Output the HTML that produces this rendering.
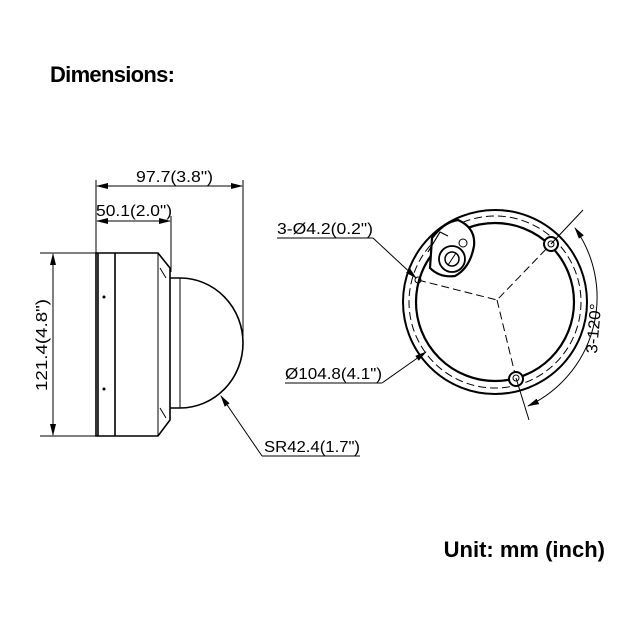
<!DOCTYPE html>
<html><head><style>
html,body{margin:0;padding:0;background:#fff;}
svg{display:block;}
</style></head><body>
<svg width="640" height="640" viewBox="0 0 640 640" xmlns="http://www.w3.org/2000/svg">
<defs>
<marker id="a" markerWidth="12" markerHeight="6" refX="11" refY="3" orient="auto-start-reverse" markerUnits="userSpaceOnUse">
<path d="M0,0 L12,3 L0,6 z" fill="#000"/>
</marker>
</defs>
<text x="50" y="82" font-family="Liberation Sans, sans-serif" font-weight="bold" font-size="22" textLength="125">Dimensions:</text>
<text x="605" y="557" text-anchor="end" font-family="Liberation Sans, sans-serif" font-weight="bold" font-size="22">Unit: mm (inch)</text>

<g stroke="#000" fill="none" stroke-width="1">
<!-- left view -->
<line x1="96" y1="180" x2="96" y2="253"/>
<line x1="243" y1="180" x2="243" y2="344"/>
<line x1="171" y1="216" x2="171" y2="272"/>
<line x1="97" y1="186" x2="242" y2="186" marker-start="url(#a)" marker-end="url(#a)"/>
<line x1="97" y1="221" x2="170" y2="221" marker-start="url(#a)" marker-end="url(#a)"/>
<line x1="40" y1="253" x2="96" y2="253"/>
<line x1="40" y1="436" x2="96" y2="436"/>
<line x1="53" y1="254" x2="53" y2="435" marker-start="url(#a)" marker-end="url(#a)"/>
<g stroke-width="1.6">
<path d="M96,253 L158,253 L170,268 L170,420 L158,436 L96,436 Z"/>
<line x1="98" y1="253" x2="98" y2="436"/>
<line x1="115" y1="253" x2="115" y2="436"/>
<path d="M170,278 L180,278 A63,65 0 0 1 180,408 L170,408"/>
<line x1="180" y1="278" x2="180" y2="408" stroke-width="1"/>
<line x1="158" y1="253" x2="158" y2="436" stroke-width="1"/>
</g>
<circle cx="104" cy="297" r="1" fill="#000"/>
<circle cx="104" cy="389" r="1" fill="#000"/>
<path d="M160,268 l6,10 M160,408 l6,10"/>
<line x1="262" y1="456" x2="221" y2="396" marker-end="url(#a)"/>
<line x1="262" y1="456" x2="360" y2="456"/>

<!-- right view -->
<circle cx="495" cy="302" r="92" stroke-width="2"/>
<circle cx="495" cy="302" r="86" stroke-dasharray="8,4"/>
<circle cx="495" cy="302" r="79" stroke-width="2.2"/>
<path d="M418,280 L497,300 L551,244 M497,300 L516,378" stroke-dasharray="8,4"/>
<circle cx="551" cy="244" r="7" fill="#fff" stroke-width="2"/>
<circle cx="516" cy="379" r="7" fill="#fff" stroke-width="2"/>
<path d="M432,238 Q444,222 458,220 Q476,228 474,246 Q470,268 455,276 Q440,278 430,268 Z" stroke-width="2.2" fill="#fff"/>
<path d="M428,252 L440,232 L448,236" stroke-width="1.2"/>
<circle cx="452" cy="259" r="13" stroke-width="1.8" fill="#fff"/>
<circle cx="452" cy="259" r="7" stroke-width="1.5"/>
<line x1="448" y1="265" x2="456" y2="253"/>
<circle cx="463" cy="243" r="4"/>
<circle cx="418" cy="280" r="3"/>
<circle cx="551" cy="244" r="3"/>
<circle cx="516" cy="378" r="3"/>
<line x1="551" y1="244" x2="583" y2="210"/>
<line x1="516" y1="378" x2="529" y2="420"/>
<path d="M575,228 A120,120 0 0 1 528,406" marker-start="url(#a)" marker-end="url(#a)"/>
<line x1="277" y1="238" x2="373" y2="238"/>
<line x1="373" y1="238" x2="416" y2="278" marker-end="url(#a)"/>
<line x1="285" y1="383" x2="382" y2="383"/>
<line x1="382" y1="383" x2="426" y2="352" marker-end="url(#a)"/>
</g>

<g font-family="Liberation Sans, DejaVu Sans, sans-serif" font-size="16" fill="#000">
<text x="136" y="182" textLength="77" lengthAdjust="spacingAndGlyphs">97.7(3.8")</text>
<text x="96" y="216" textLength="76" lengthAdjust="spacingAndGlyphs">50.1(2.0")</text>
<text transform="translate(47,345) rotate(-90)" x="-46" textLength="92" lengthAdjust="spacingAndGlyphs">121.4(4.8")</text>
<text x="264" y="452" textLength="96" lengthAdjust="spacingAndGlyphs">SR42.4(1.7")</text>
<text x="277" y="234" textLength="96" lengthAdjust="spacingAndGlyphs">3-Ø4.2(0.2")</text>
<text x="285" y="379" textLength="97" lengthAdjust="spacingAndGlyphs">Ø104.8(4.1")</text>
<text transform="translate(599,329) rotate(-85)" x="-25" textLength="50" lengthAdjust="spacingAndGlyphs">3-120°</text>
</g>
</svg>
</body></html>
